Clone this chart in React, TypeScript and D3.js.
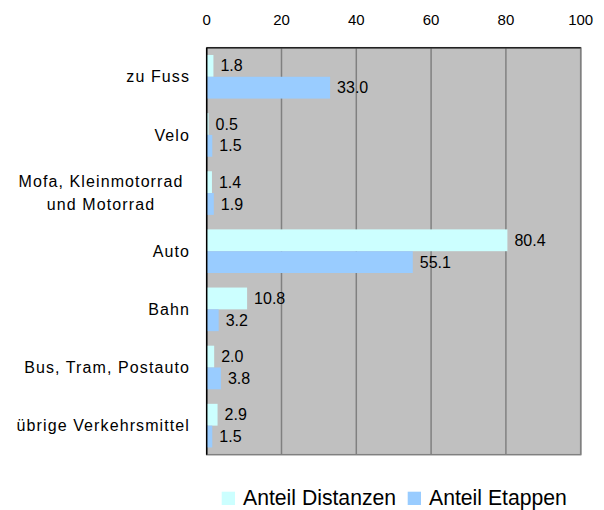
import React from "react";
import * as d3 from "d3";

const categories: string[][] = [
  ["zu Fuss"],
  ["Velo"],
  ["Mofa, Kleinmotorrad", "und Motorrad"],
  ["Auto"],
  ["Bahn"],
  ["Bus, Tram, Postauto"],
  ["übrige Verkehrsmittel"],
];
const seriesNames = ["Anteil Distanzen", "Anteil Etappen"];
const distanzen = [1.8, 0.5, 1.4, 80.4, 10.8, 2.0, 2.9];
const etappen = [33.0, 1.5, 1.9, 55.1, 3.2, 3.8, 1.5];
const ticks = [0, 20, 40, 60, 80, 100];
const colors = ["#CCFFFF", "#99CCFF"];

const W = 604;
const H = 510;
const plot = { left: 206.7, right: 580.7, top: 47.7, bottom: 454.7 };
const FONT = "'Liberation Sans', Arial, sans-serif";

export default function App() {
  const x = d3.scaleLinear().domain([0, 100]).range([plot.left, plot.right]);
  const yCat = d3
    .scaleBand<number>()
    .domain(d3.range(categories.length))
    .range([plot.top, plot.bottom])
    .padding(0);
  const ySer = d3
    .scaleBand<number>()
    .domain([0, 1])
    .range([0, yCat.bandwidth()])
    .paddingInner(0)
    .paddingOuter(0.333);
  const series = [distanzen, etappen];

  return (
    <svg
      width={W}
      height={H}
      style={{ position: "absolute", left: 0, top: 0, display: "block" }}
      fontFamily={FONT}
    >
      <rect x={0} y={0} width={W} height={H} fill="#ffffff" />
      <rect
        x={plot.left}
        y={plot.top}
        width={plot.right - plot.left}
        height={plot.bottom - plot.top}
        fill="#C0C0C0"
        stroke="#808080"
        strokeWidth={1.5}
      />
      {ticks.slice(1).map((t) => (
        <line
          key={"g" + t}
          x1={x(t)}
          x2={x(t)}
          y1={plot.top}
          y2={plot.bottom}
          stroke="#808080"
          strokeWidth={1.5}
        />
      ))}
      {categories.map((c, i) =>
        series.map((s, k) => (
          <rect
            key={`b${i}-${k}`}
            x={x(0)}
            y={(yCat(i) as number) + (ySer(k) as number)}
            width={x(s[i]) - x(0)}
            height={ySer.bandwidth()}
            fill={colors[k]}
          />
        ))
      )}
      {/* axes */}
      <line x1={plot.left} x2={plot.right} y1={plot.top} y2={plot.top} stroke="#222" strokeWidth={1.5} />
      <line x1={plot.left} x2={plot.left} y1={plot.top} y2={plot.bottom} stroke="#000" strokeWidth={1.5} />
      {ticks.map((t) => (
        <text key={"t" + t} x={x(t)} y={25} textAnchor="middle" fontSize={15} fill="#000">
          {t}
        </text>
      ))}
      {categories.map((c, i) => {
        const cy = (yCat(i) as number) + yCat.bandwidth() / 2;
        if (c.length === 1) {
          return (
            <text
              key={"c" + i}
              x={190}
              y={cy}
              dy="0.35em"
              textAnchor="end"
              fontSize={16}
              letterSpacing={1.1}
              fill="#000"
            >
              {c[0]}
            </text>
          );
        }
        return (
          <text key={"c" + i} x={101} textAnchor="middle" fontSize={16} letterSpacing={1.1} fill="#000">
            {c.map((line, j) => (
              <tspan key={j} x={101} y={cy + (j - (c.length - 1) / 2) * 22.6} dy="0.35em">
                {line}
              </tspan>
            ))}
          </text>
        );
      })}
      {categories.map((c, i) =>
        series.map((s, k) => (
          <text
            key={`v${i}-${k}`}
            x={x(s[i]) + 7}
            y={(yCat(i) as number) + (ySer(k) as number) + ySer.bandwidth() / 2}
            dy="0.35em"
            fontSize={16}
            fill="#000"
          >
            {s[i].toFixed(1)}
          </text>
        ))
      )}
      {/* legend */}
      {seriesNames.map((n, k) => {
        const lx = k === 0 ? 221.7 : 407.7;
        return (
          <g key={"l" + k}>
            <rect x={lx} y={491.7} width={13.3} height={13.3} fill={colors[k]} />
            <text x={lx + 21.3} y={504.5} fontSize={21.2} fill="#000">
              {n}
            </text>
          </g>
        );
      })}
    </svg>
  );
}
